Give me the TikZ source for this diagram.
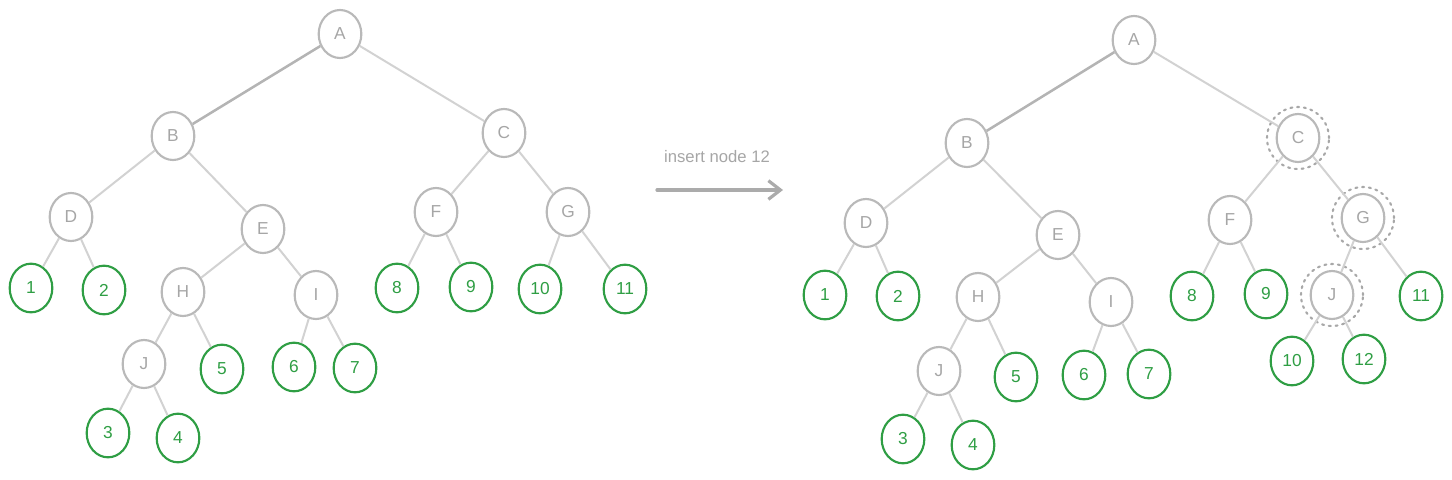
\documentclass[tikz,border=0pt]{standalone}
\usepackage{fontspec}
\setmainfont{Liberation Sans}
\usetikzlibrary{shapes.geometric,arrows.meta}
\definecolor{nodegray}{HTML}{B9B9B9}
\definecolor{textgray}{HTML}{A6A6A6}
\definecolor{edgegray}{HTML}{D2D2D2}
\definecolor{darkedge}{HTML}{B4B4B4}
\definecolor{leafgreen}{HTML}{2F9E44}
\definecolor{dotgray}{HTML}{A8A8A8}
\definecolor{arrowgray}{HTML}{ABABAB}
\tikzset{
  inner/.style={ellipse, draw=nodegray, line width=1.6pt, minimum width=32pt, minimum height=36pt, inner sep=0pt, text=textgray, font=\fontsize{13}{15}\selectfont},
  leaf/.style={ellipse, draw=leafgreen, line width=1.6pt, minimum width=32pt, minimum height=36.5pt, inner sep=0pt, text=leafgreen, font=\fontsize{13}{15}\selectfont},
  edge/.style={draw=edgegray, line width=1.5pt},
  heavyedge/.style={draw=darkedge, line width=1.9pt},
  mark ring/.style={circle, draw=dotgray, line width=1.6pt, dash pattern=on 1.5pt off 3.6pt, line cap=round, minimum size=46.5pt, inner sep=0pt},
  lbl/.style={text=textgray, font=\fontsize{12.5}{14}\selectfont},
}
\begin{document}
\begin{tikzpicture}[x=0.75pt,y=-0.75pt]
\useasboundingbox (0,0) rectangle (1452,479);
% ---------- left tree ----------
\node[inner] (lA) at (340,34) {A};
\node[inner] (lB) at (173,136) {B};
\node[inner] (lC) at (504,133) {C};
\node[inner] (lD) at (71,217) {D};
\node[inner] (lE) at (263,229) {E};
\node[inner] (lF) at (436,212) {F};
\node[inner] (lG) at (568,212) {G};
\node[leaf] (l1) at (31,288) {1};
\node[leaf] (l2) at (104,290) {2};
\node[inner] (lH) at (183,292) {H};
\node[inner] (lI) at (316,295) {I};
\node[leaf] (l8) at (397,288) {8};
\node[leaf] (l9) at (471,287) {9};
\node[leaf] (l10) at (540,289) {10};
\node[leaf] (l11) at (625,289) {11};
\node[inner] (lJ) at (144,364) {J};
\node[leaf] (l5) at (222,369) {5};
\node[leaf] (l6) at (294,367) {6};
\node[leaf] (l7) at (355,368) {7};
\node[leaf] (l3) at (108,433) {3};
\node[leaf] (l4) at (178,438) {4};
\draw[heavyedge] (lA) -- (lB);
\draw[edge] (lA) -- (lC);
\draw[edge] (lB) -- (lD);
\draw[edge] (lB) -- (lE);
\draw[edge] (lC) -- (lF);
\draw[edge] (lC) -- (lG);
\draw[edge] (lD) -- (l1);
\draw[edge] (lD) -- (l2);
\draw[edge] (lE) -- (lH);
\draw[edge] (lE) -- (lI);
\draw[edge] (lF) -- (l8);
\draw[edge] (lF) -- (l9);
\draw[edge] (lG) -- (l10);
\draw[edge] (lG) -- (l11);
\draw[edge] (lH) -- (lJ);
\draw[edge] (lH) -- (l5);
\draw[edge] (lI) -- (l6);
\draw[edge] (lI) -- (l7);
\draw[edge] (lJ) -- (l3);
\draw[edge] (lJ) -- (l4);
% ---------- arrow ----------
\coordinate (arS) at (657,190);
\coordinate (arE) at (783,190);
\draw[draw=arrowgray, line width=2.4pt, line cap=round, -{Straight Barb[length=9pt,width=14pt,line width=2.4pt]}] (arS) -- (arE);
\node[lbl] (arL) at (717,157) {insert node 12};
% ---------- right tree ----------
\node[inner] (rA) at (1134,40) {A};
\node[inner] (rB) at (967,143) {B};
\node[inner] (rC) at (1298,138) {C};
\node[inner] (rD) at (866,223) {D};
\node[inner] (rE) at (1058,235) {E};
\node[inner] (rF) at (1230,220) {F};
\node[inner] (rG) at (1363,218) {G};
\node[leaf] (r1) at (825,295) {1};
\node[leaf] (r2) at (898,296) {2};
\node[inner] (rH) at (978,297) {H};
\node[inner] (rI) at (1111,302) {I};
\node[leaf] (r8) at (1192,296) {8};
\node[leaf] (r9) at (1266,294) {9};
\node[inner] (rJ2) at (1332,295) {J};
\node[leaf] (r11) at (1421,296) {11};
\node[inner] (rJ) at (939,371) {J};
\node[leaf] (r5) at (1016,377) {5};
\node[leaf] (r6) at (1084,375) {6};
\node[leaf] (r7) at (1149,374) {7};
\node[leaf] (r10) at (1292,361) {10};
\node[leaf] (r12) at (1364,359) {12};
\node[leaf] (r3) at (903,439) {3};
\node[leaf] (r4) at (973,445) {4};
\node[mark ring] (mC) at (rC) {};
\node[mark ring] (mG) at (rG) {};
\node[mark ring] (mJ) at (rJ2) {};
\draw[heavyedge] (rA) -- (rB);
\draw[edge] (rA) -- (rC);
\draw[edge] (rB) -- (rD);
\draw[edge] (rB) -- (rE);
\draw[edge] (rC) -- (rF);
\draw[edge] (rC) -- (rG);
\draw[edge] (rD) -- (r1);
\draw[edge] (rD) -- (r2);
\draw[edge] (rE) -- (rH);
\draw[edge] (rE) -- (rI);
\draw[edge] (rF) -- (r8);
\draw[edge] (rF) -- (r9);
\draw[edge] (rG) -- (rJ2);
\draw[edge] (rG) -- (r11);
\draw[edge] (rH) -- (rJ);
\draw[edge] (rH) -- (r5);
\draw[edge] (rI) -- (r6);
\draw[edge] (rI) -- (r7);
\draw[edge] (rJ2) -- (r10);
\draw[edge] (rJ2) -- (r12);
\draw[edge] (rJ) -- (r3);
\draw[edge] (rJ) -- (r4);
\end{tikzpicture}
\end{document}
